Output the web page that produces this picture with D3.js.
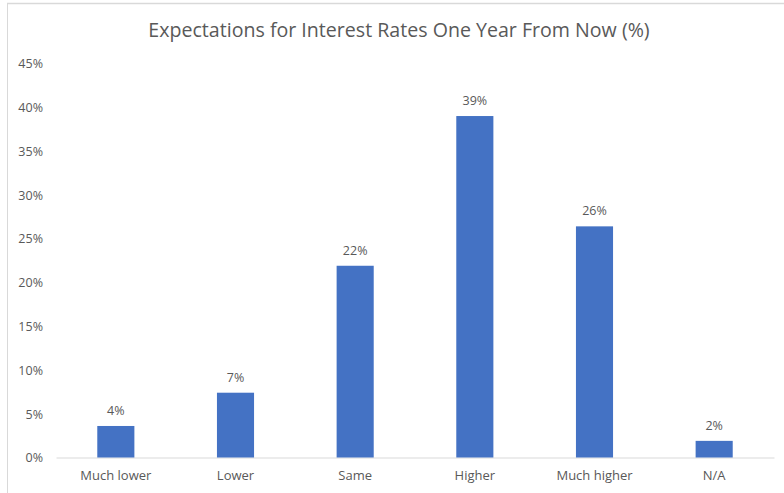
<!DOCTYPE html>
<html><head><meta charset="utf-8">
<script src="https://cdn.jsdelivr.net/npm/d3@7"></script>
<style>html,body{margin:0;padding:0;background:#fff;}svg{display:block;}</style>
</head><body>
<svg id="chart" width="784" height="493"></svg>
<script>
const categories = ["Much lower", "Lower", "Same", "Higher", "Much higher", "N/A"];
const values = [3.6, 7.4, 21.9, 39.0, 26.4, 1.9];
const valueLabels = ["4%", "7%", "22%", "39%", "26%", "2%"];
const yTicks = [0, 5, 10, 15, 20, 25, 30, 35, 40, 45];
const title = "Expectations for Interest Rates One Year From Now (%)";

const svg = d3.select("#chart");
const W = 784, H = 493;
const font = "Open Sans, Noto Sans, sans-serif";
const textColor = "#595959";

// chart border (top and left visible)
svg.append("line").attr("x1", 7).attr("x2", W).attr("y1", 3.5).attr("y2", 3.5).attr("stroke", "#d9d9d9").attr("stroke-width", 1.5);
svg.append("line").attr("x1", 7.5).attr("x2", 7.5).attr("y1", 3.5).attr("y2", H).attr("stroke", "#d9d9d9").attr("stroke-width", 1);

const plot = {left: 56, right: 774, top: 63.5, bottom: 457.5};
const x = d3.scaleBand().domain(categories).range([plot.left, plot.right]).paddingInner(0.69).paddingOuter(0.345);
const y = d3.scaleLinear().domain([0, 45]).range([plot.bottom, plot.top]);

svg.append("text").attr("x", 399).attr("y", 37).attr("text-anchor", "middle")
  .attr("font-family", font).attr("font-size", 19.6).attr("fill", textColor).text(title);

// y axis labels
const yAxis = d3.axisLeft(y).tickValues(yTicks).tickFormat(d => d + "%").tickSize(0).tickPadding(0);
const gy = svg.append("g").attr("transform", `translate(43,0)`).call(yAxis);
gy.select(".domain").remove();
gy.selectAll("text").attr("font-family", font).attr("font-size", 12.5).attr("fill", textColor).attr("dy", "0.35em");

// x axis
const xAxis = d3.axisBottom(x).tickSize(0).tickPadding(13);
const gx = svg.append("g").attr("transform", `translate(0,${plot.bottom})`).call(xAxis);
gx.select(".domain").attr("stroke", "#d9d9d9").attr("stroke-width", 1);
gx.selectAll("text").attr("font-family", font).attr("font-size", 13).attr("fill", textColor);

// bars
svg.selectAll("rect.bar").data(values).enter().append("rect").attr("class", "bar")
  .attr("x", (d, i) => x(categories[i])).attr("width", x.bandwidth())
  .attr("y", d => y(d)).attr("height", d => y(0) - y(d))
  .attr("fill", "#4472C4");

// data labels
svg.selectAll("text.lbl").data(values).enter().append("text").attr("class", "lbl")
  .attr("x", (d, i) => x(categories[i]) + x.bandwidth() / 2).attr("y", d => y(d) - 11)
  .attr("text-anchor", "middle").attr("font-family", font).attr("font-size", 12.5).attr("fill", textColor)
  .text((d, i) => valueLabels[i]);
</script>
</body></html>
